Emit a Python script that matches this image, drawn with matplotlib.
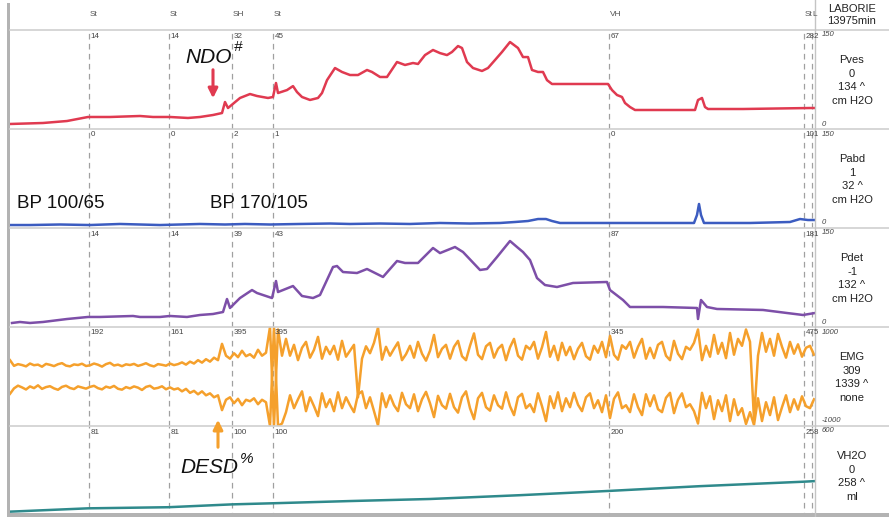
import numpy as np
import matplotlib.pyplot as plt
from matplotlib.patches import Rectangle
from matplotlib.transforms import blended_transform_factory

plt.rcParams['font.family'] = ['Liberation Sans', 'DejaVu Sans']

W, H = 889, 517

# event markers (time in s from start of fill)
event_t = [79, 159, 222, 263, 599, 794, 802]
event_names = ['St', 'St', 'SH', 'St', 'VH', 'St', 'L']

# values printed at each marker, per channel
mark_pves = ['14', '14', '32', '45', '67', '282']
mark_pabd = ['0', '0', '2', '1', '0', '101']
mark_pdet = ['14', '14', '39', '43', '87', '181']
mark_emg = ['192', '161', '395', '395', '345', '475']
mark_vh2o = ['81', '81', '100', '100', '200', '258']

# Pves, cm H2O
pves_t = [0, 33, 57, 78, 100, 130, 143, 160, 178, 190, 203, 212, 215, 218, 230, 240, 247,
          258, 263, 266, 268, 277, 283, 287, 292, 300, 308, 312, 317, 325, 332, 340, 348,
          357, 362, 370, 377, 387, 395, 403, 408, 415, 423, 430, 437, 442, 448, 452, 457,
          463, 472, 478, 485, 492, 500, 508, 513, 518, 522, 528, 533, 537, 542, 590, 598,
          602, 607, 612, 615, 620, 625, 685, 688, 692, 695, 698, 733, 800, 805]
pves = [7.6, 9.1, 12.1, 18.2, 18.2, 19.7, 18.2, 18.2, 16.7, 18.2, 21.2, 24.2, 40.9, 31.8,
        47, 53, 50, 47, 48.5, 69.7, 54.5, 59, 65, 56, 48.5, 44, 47, 54.5, 74, 92.4, 86.4,
        81.8, 81.8, 89.4, 86.4, 78.8, 78.8, 101.5, 97, 100, 98.5, 112, 119.7, 115, 112,
        116.7, 125.7, 122.7, 101.5, 92.4, 87.9, 92.4, 104.5, 116.7, 131.8, 122.7, 109, 109,
        89.4, 86.4, 86.4, 74, 68.2, 68.2, 68.2, 59, 51.5, 48.5, 39.4, 33.3, 28.8, 28.8,
        43.9, 47, 33.3, 30.3, 30.3, 31.8, 31.8]

# Pabd, cm H2O
pabd_t = [0, 20, 50, 80, 110, 130, 150, 170, 190, 215, 235, 260, 290, 320, 340, 370, 400,
          430, 460, 490, 505, 518, 528, 536, 542, 550, 590, 640, 684, 687, 689, 691, 694,
          740, 780, 790, 798, 805]
pabd = [4.5, 4.5, 5.3, 4.5, 6.1, 5.3, 4.5, 5.3, 6.1, 5.3, 6.1, 5.3, 6.1, 6.8, 6.1, 6.8,
        6.1, 7.6, 6.8, 7.6, 9.1, 10.6, 13.6, 13.6, 10.6, 7.6, 7.6, 7.6, 7.6, 19.7, 36.4,
        19.7, 7.6, 7.6, 9.1, 13.6, 12.1, 12.1]

# Pdet, cm H2O
pdet_t = [2, 10, 20, 33, 57, 78, 90, 123, 130, 150, 160, 177, 190, 203, 213, 217, 220, 230,
          242, 247, 262, 266, 268, 273, 283, 292, 303, 310, 323, 327, 333, 347, 357, 373,
          387, 395, 408, 423, 430, 445, 453, 470, 477, 487, 500, 507, 513, 520, 527, 535,
          547, 563, 597, 600, 613, 620, 653, 687, 688, 691, 697, 707, 753, 777, 793, 805]
pdet = [6.1, 7.6, 6.1, 7.6, 12.1, 15.2, 15.2, 16.7, 15.2, 15.2, 16.7, 15.2, 18.2, 19.7,
        22.7, 42.4, 28.8, 43.9, 56, 51.5, 43.9, 69.7, 53, 56, 62.1, 47, 43.9, 48.5, 90.9,
        92.4, 83.3, 81.8, 87.9, 75.8, 100, 97, 97, 119.7, 112, 121.2, 113.6, 86.4, 87.9,
        106, 130.3, 121.2, 113.6, 101.5, 74.2, 63.6, 60.6, 66.7, 68.2, 56, 40.9, 30.3,
        30.3, 28.8, 12.1, 40.9, 30.3, 27.3, 25.8, 21.2, 18.2, 21.2]

# EMG, uV, one sample every 4 s: upper and lower trace
emg_top = [330, 215, 250, 232, 205, 262, 228, 240, 198, 255,
           236, 210, 248, 270, 220, 205, 244, 232, 258, 212,
           226, 262, 238, 200, 250, 276, 222, 240, 208, 246,
           232, 255, 214, 238, 268, 226, 204, 250, 236, 218,
           262, 230, 250, 285, 240, 300, 262, 330, 280, 350,
           300, 380, 330, 660, 420, 360, 470, 390, 520, 410,
           450, 380, 540, 420, 480, 1000, -1000, 950, 420, 760,
           420, 640, 330, 580, 700, 380, 540, 800, 360, 600,
           450, 620, 340, 720, 400, 520, 640, -420, 360, 610,
           470, 680, 990, 340, 600, 420, 560, 690, 330, 450,
           620, 380, 700, 460, 320, 520, 840, 390, 560, 640,
           360, 600, 720, 410, 330, 620, 870, 440, 350, 610,
           680, 380, 560, 640, 330, 590, 760, 420, 340, 620,
           550, 700, 360, 590, 900, 400, 620, 330, 680, 430,
           600, 350, 560, 680, 410, 340, 620, 480, 700, 390,
           820, 440, 340, 630, 560, 700, 380, 600, 760, 360,
           580, 370, 640, 700, 420, 330, 720, 460, 350, 600,
           540, 680, 950, 330, 620, 400, 840, 460, 680, 370,
           880, 440, 760, 620, 950, 700, -870, 420, 880, 500,
           760, 420, 860, 600, 380, 700, 460, 650, 400, 580,
           620, 440]
emg_bot = [-350, -240, -185, -220, -262, -200, -235, -178, -250, -214,
           -196, -240, -268, -210, -186, -232, -254, -200, -222, -245,
           -210, -188, -236, -260, -205, -228, -190, -248, -266, -214,
           -240, -200, -225, -272, -210, -188, -246, -230, -198, -258,
           -220, -262, -240, -300, -250, -330, -290, -360, -300, -380,
           -340, -420, -380, -680, -470, -420, -540, -450, -580, -470,
           -500, -440, -560, -470, -520, -1000, 1000, -1000, -950, -720,
           -380, -640, -460, -300, -700, -420, -600, -800, -340, -620,
           -460, -700, -320, -640, -420, -580, -720, -360, -300, -640,
           -420, -700, -990, -340, -620, -380, -580, -700, -330, -560,
           -640, -360, -700, -460, -310, -540, -820, -390, -580, -650,
           -350, -620, -730, -420, -300, -640, -860, -440, -330, -620,
           -690, -380, -580, -650, -320, -600, -780, -420, -350, -640,
           -560, -720, -340, -600, -900, -400, -640, -320, -700, -440,
           -620, -330, -570, -700, -420, -340, -640, -480, -720, -380,
           -840, -450, -320, -640, -580, -720, -360, -620, -780, -360,
           -600, -380, -660, -720, -430, -330, -740, -470, -340, -620,
           -560, -700, -950, -330, -640, -400, -860, -480, -700, -380,
           -900, -460, -780, -640, -960, -720, -980, -440, -900, -520,
           -780, -420, -880, -620, -380, -720, -460, -670, -400, -600,
           -640, -460]

# infused volume, ml
vh2o_t = [0, 78, 158, 222, 263, 340, 420, 510, 599, 690, 793, 805]
vh2o = [59, 80, 87, 105, 112, 126, 139, 163, 190, 220, 248, 252]

fig = plt.figure(figsize=(W / 100, H / 100), dpi=100)


def px_box(x0, y0, x1, y1):
    return [x0 / W, 1 - y1 / H, (x1 - x0) / W, (y1 - y0) / H]


# pixel-space overlay for frame, labels and annotations
ov = fig.add_axes([0, 0, 1, 1], zorder=5)
ov.set_xlim(0, W)
ov.set_ylim(H, 0)
ov.axis('off')
ov.patch.set_alpha(0)

panels = [
    dict(top=30, bot=129, lim=(0, 150), name='Pves', vals=['0', '134 ^', 'cm H2O'],
         scale=('150', '0'), marks=mark_pves),
    dict(top=129, bot=228, lim=(0, 150), name='Pabd', vals=['1', '32 ^', 'cm H2O'],
         scale=('150', '0'), marks=mark_pabd),
    dict(top=228, bot=327, lim=(0, 150), name='Pdet', vals=['-1', '132 ^', 'cm H2O'],
         scale=('150', '0'), marks=mark_pdet),
    dict(top=327, bot=426, lim=(-1000, 1000), name='EMG', vals=['309', '1339 ^', 'none'],
         scale=('1000', '-1000'), marks=mark_emg),
    dict(top=426, bot=521, lim=(0, 600), name='VH2O', vals=['0', '258 ^', 'ml'],
         scale=('600', None), marks=mark_vh2o),
]

axes = []
for p in panels:
    ax = fig.add_axes(px_box(10, p['top'], 815, p['bot']))
    ax.set_xlim(0, 805)
    ax.set_ylim(*p['lim'])
    ax.axis('off')
    ax.patch.set_alpha(0)
    for t in event_t:
        ax.axvline(t, color='#a0a0a0', lw=0.9, ls=(0, (4.5, 3.5)), zorder=1)
    axes.append(ax)

ax_pves, ax_pabd, ax_pdet, ax_emg, ax_vol = axes
ax_pves.plot(pves_t, pves, color='#e03a50', lw=1.8, zorder=3)
ax_pabd.plot(pabd_t, pabd, color='#3c5cc0', lw=1.8, zorder=3)
ax_pdet.plot(pdet_t, pdet, color='#7d4fa8', lw=1.8, zorder=3)
emg_t = np.arange(len(emg_top)) * 4
ax_emg.plot(emg_t, emg_top, color='#f5a02c', lw=1.8, zorder=3)
ax_emg.plot(emg_t, emg_bot, color='#f5a02c', lw=1.8, zorder=3)
ax_vol.plot(vh2o_t, vh2o, color='#2f8a8c', lw=1.8, zorder=3)

# frame
grey = '#cfcfcf'
for p in panels:
    ov.plot([10, W], [p['top'], p['top']], color=grey, lw=1.2)
ov.plot([815, 815], [0, H], color='#c4c4c4', lw=1.0)
ov.add_patch(Rectangle((7, 3), 3, H - 3, color='#b3b3b3', lw=0))
ov.add_patch(Rectangle((7, 513), W - 7, 4, color='#b3b3b3', lw=0))

# header
tr = blended_transform_factory(ax_pves.transData, ov.transData)
for t, name in zip(event_t, event_names):
    ov.text(t + 0.5, 15, name, transform=tr, fontsize=6, color='#555555', va='center')
ov.text(852, 9, 'LABORIE', fontsize=8, ha='center', va='center', color='#222222')
ov.text(852, 21, '13975min', fontsize=8, ha='center', va='center', color='#222222')

for p in panels:
    for t, m in zip(event_t, p['marks']):
        ov.text(t + 1.5, p['top'] + 6, m, transform=tr, fontsize=5.8, color='#444444',
                va='center')
    lines = [p['name']] + p['vals']
    for k, s in enumerate(lines):
        ov.text(852, p['top'] + 30 + 13.7 * k, s, fontsize=8, ha='center', va='center',
                color='#222222')
    ov.text(822, p['top'] + 5, p['scale'][0], fontsize=5.5, style='italic', va='center',
            color='#444444')
    if p['scale'][1] is not None:
        ov.text(822, p['top'] + 94, p['scale'][1], fontsize=5.5, style='italic',
                va='center', color='#444444')

# annotations
ov.text(185, 63, 'NDO', fontsize=15, style='italic', color='#111111')
ov.text(234, 51, '#', fontsize=11, style='italic', color='#111111')
ov.annotate('', xy=(213, 101), xytext=(213, 67),
            arrowprops=dict(arrowstyle='-|>', color='#e03a50', lw=2.2, mutation_scale=14))
ov.text(180, 473, 'DESD', fontsize=15, style='italic', color='#111111')
ov.text(240, 463, '%', fontsize=11, style='italic', color='#111111')
ov.annotate('', xy=(218, 417), xytext=(218, 450),
            arrowprops=dict(arrowstyle='-|>', color='#f5a02c', lw=2.2, mutation_scale=14))
ov.text(17, 208, 'BP 100/65', fontsize=13.5, color='#111111')
ov.text(210, 208, 'BP 170/105', fontsize=13.5, color='#111111')

fig.savefig('out.png', dpi=100)
